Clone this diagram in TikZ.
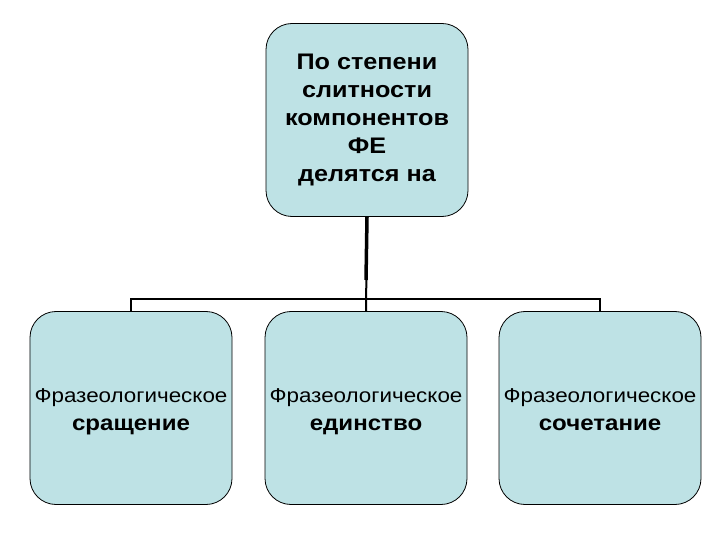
\documentclass[tikz,border=0pt]{standalone}
\usepackage{fontspec}
\setmainfont[FakeStretch=1.12]{Liberation Sans}
\newcommand{\tstrut}{\rule{0pt}{24.4bp}}
\newcommand{\bstrut}{\rule[-8.4bp]{0pt}{8.4bp}}
\begin{document}
\begin{tikzpicture}[x=1bp,y=-1bp,
  box/.style={draw=black, line width=0.8bp, fill=boxfill, rounded corners=26bp,
    minimum width=202bp, minimum height=193bp, align=center, inner sep=0pt},
  low/.style={box, font=\fontsize{20bp}{28bp}\selectfont},
  bus/.style={line width=2bp, draw=black},
  thick bus/.style={line width=3.5bp, draw=black}]
\definecolor{boxfill}{HTML}{BEE2E5}
\useasboundingbox (0,0) rectangle (720,540);
\node[box, font=\bfseries\fontsize{22.5bp}{28bp}\selectfont] (top) at (367,120)
  {По степени\\слитности\\компонентов\\ФЕ\\делятся на};
\node[low] (l) at (131,408)
  {\tstrut Фразеологическое\\{\bfseries\fontsize{21.5bp}{28bp}\selectfont сращение\bstrut}};
\node[low] (m) at (366,408)
  {\tstrut Фразеологическое\\{\bfseries\fontsize{21.5bp}{28bp}\selectfont единство\bstrut}};
\node[low] (r) at (600,408)
  {\tstrut Фразеологическое\\{\bfseries\fontsize{21.5bp}{28bp}\selectfont сочетание\bstrut}};
\coordinate (j) at (366,299);
\coordinate (k) at (366,280);
\draw[thick bus] (top.south) -- (k);
\draw[bus] (top.south) -- (m.north);
\draw[bus] (l.north) |- (j) -| (r.north);
\end{tikzpicture}
\end{document}
